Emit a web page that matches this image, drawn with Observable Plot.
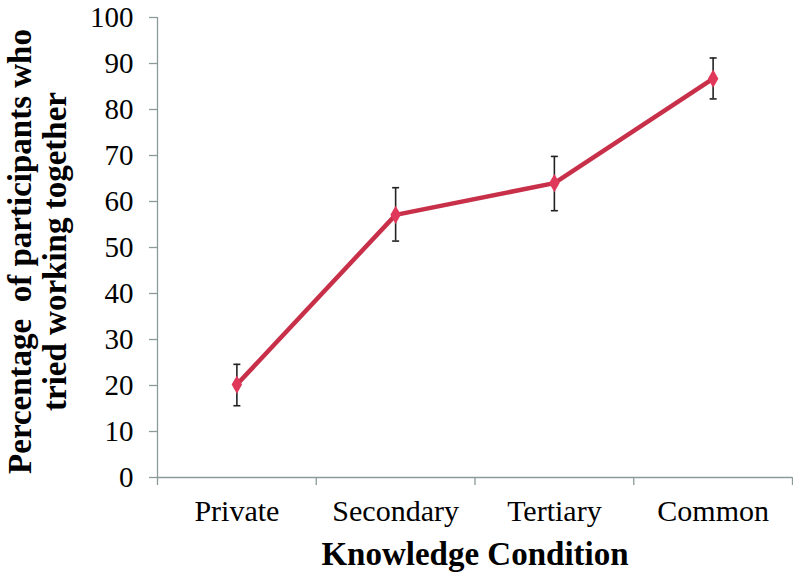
<!DOCTYPE html>
<html>
<head>
<meta charset="utf-8">
<script src="https://cdn.jsdelivr.net/npm/d3@7"></script>
<script src="https://cdn.jsdelivr.net/npm/@observablehq/plot@0.6"></script>
<style>
  html, body { margin: 0; padding: 0; background: #fff; }
  svg { font-family: "Liberation Serif", "Times New Roman", serif; }
</style>
</head>
<body>
<div id="chart"></div>
<script>
const categories = ["Private", "Secondary", "Tertiary", "Common"];
const values = [20.2, 57.1, 64.0, 86.7];
const errLow = [15.6, 51.4, 58.0, 82.3];
const errHigh = [24.6, 63.0, 69.8, 91.2];
const yTicks = [0, 10, 20, 30, 40, 50, 60, 70, 80, 90, 100];
const yTitle = "Percentage  of participants who\ntried working together";
const xTitle = "Knowledge Condition";

const data = categories.map((c, i) => ({
  pos: i + 0.5, cat: c, v: values[i], lo: errLow[i], hi: errHigh[i]
}));
const boundaries = d3.range(0, categories.length + 1);
const centers = categories.map((c, i) => i + 0.5);

const axisGray = "#8c9a9b";
const capSymbol = { draw(ctx, size) { const r = 3.5; ctx.moveTo(-r, 0); ctx.lineTo(r, 0); } };

const chart = Plot.plot({
  width: 793,
  height: 585,
  marginLeft: 157,
  marginRight: 1,
  marginTop: 17,
  marginBottom: 108,
  style: { fontFamily: "Liberation Serif, serif", background: "#fff", color: "#000" },
  x: { domain: [0, categories.length], axis: null, label: null },
  y: { domain: [0, 100], axis: null, label: null },
  marks: [
    Plot.ruleX([0], { stroke: axisGray, strokeWidth: 1.3 }),
    Plot.ruleY([0], { stroke: axisGray, strokeWidth: 1.3 }),
    Plot.axisY({ ticks: yTicks, label: null, tickSize: 8, tickPadding: 16, stroke: axisGray, strokeWidth: 1.3, fontSize: 29, fill: "#000", tickFormat: d => String(d) }),
    Plot.axisX({ ticks: boundaries, label: null, tickSize: 8, stroke: axisGray, strokeWidth: 1.3, tickFormat: () => "" }),
    Plot.axisX({ ticks: centers, label: null, tickSize: 0, tickPadding: 22, fontSize: 30, fill: "#000", tickFormat: d => categories[Math.floor(d)] }),
    Plot.ruleX(data, { x: "pos", y1: "lo", y2: "hi", stroke: "#222", strokeWidth: 1.6 }),
    Plot.dot(data, { x: "pos", y: "lo", symbol: capSymbol, stroke: "#222", strokeWidth: 1.6, r: 4 }),
    Plot.dot(data, { x: "pos", y: "hi", symbol: capSymbol, stroke: "#222", strokeWidth: 1.6, r: 4 }),
    Plot.line(data, { x: "pos", y: "v", stroke: "#c8304a", strokeWidth: 4.5 }),
    Plot.dot(data, { x: "pos", y: "v", symbol: "diamond", fill: "#e0385a", r: 5.5 }),
    Plot.text([yTitle], { frameAnchor: "left", textAnchor: "middle", lineAnchor: "middle", rotate: -90, dx: -120, dy: 4, fontSize: 33, fontWeight: "bold", lineHeight: 1.06, fill: "#000" }),
    Plot.text([xTitle], { frameAnchor: "bottom", dy: 87, fontSize: 33, fontWeight: "bold", fill: "#000" })
  ]
});
document.getElementById("chart").appendChild(chart);
</script>
</body>
</html>
